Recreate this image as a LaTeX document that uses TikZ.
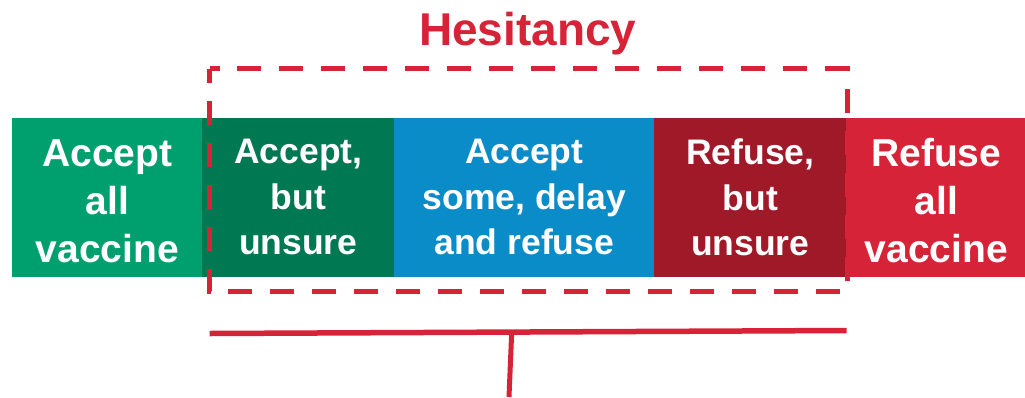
\documentclass[tikz,border=0pt]{standalone}
\usepackage{fontspec}
\setmainfont{Liberation Sans}
\usetikzlibrary{positioning}
\definecolor{acceptgreen}{RGB}{0,160,110}
\definecolor{unsuregreen}{RGB}{0,120,82}
\definecolor{delayblue}{RGB}{10,140,200}
\definecolor{unsurered}{RGB}{160,25,40}
\definecolor{refusered}{RGB}{215,35,55}
\newcommand{\topstrut}{\rule{0pt}{35pt}}
\tikzset{
  band/.style={inner sep=0pt, outer sep=0pt, line width=0.6pt, minimum height=158.1pt, text=white, align=center},
  outer/.style={band, font=\bfseries\fontsize{39}{48}\selectfont},
  inner/.style={band, font=\bfseries\fontsize{35.5}{45.5}\selectfont},
  hesbox/.style={refusered, line width=5pt, dash pattern=on 24pt off 17.976pt, dash phase=14pt},
  brace/.style={refusered, line width=5.5pt}
}

\begin{document}
\begin{tikzpicture}[x=1pt,y=-1pt]
  \useasboundingbox (0,0) rectangle (1025,397);
  % boxes
  \node[outer, fill=acceptgreen, draw=acceptgreen, minimum width=190pt, anchor=north west] (all) at (12.3,118.3) {\topstrut Accept\\all\\vaccine};
  \node[inner, fill=unsuregreen, draw=unsuregreen, minimum width=192pt, right=0pt of all] (butunsure) {Accept,\\but\\unsure};
  \node[inner, fill=delayblue, draw=delayblue, minimum width=260pt, right=0pt of butunsure] (some) {Accept\\some, delay\\and refuse};
  \node[inner, fill=unsurered, draw=unsurered, minimum width=192pt, right=0pt of some] (refunsure) {Refuse,\\but\\unsure};
  \node[outer, fill=refusered, draw=refusered, minimum width=180pt, right=0pt of refunsure] (refall) {\topstrut Refuse\\all\\vaccine};
  % hesitancy frame
  \node[anchor=base, text=refusered, font=\bfseries\fontsize{46}{55}\selectfont] (title) at (527.8,45) {Hesitancy};
  \coordinate (tl) at (209.5,68.7);
  \coordinate (br) at (847,291.7);
  \draw[hesbox] (tl) -- (tl -| br) -- (br) -- (br -| tl) -- cycle;
  % bracket
  \coordinate (bl) at (209.7,333.5);
  \coordinate (brr) at (846.7,330.5);
  \coordinate (stemtop) at (511.7,332.1);
  \coordinate (stembot) at (509,397);
  \draw[brace] (bl) -- (brr);
  \draw[brace, line width=5pt] (stemtop) -- (stembot);
\end{tikzpicture}
\end{document}
